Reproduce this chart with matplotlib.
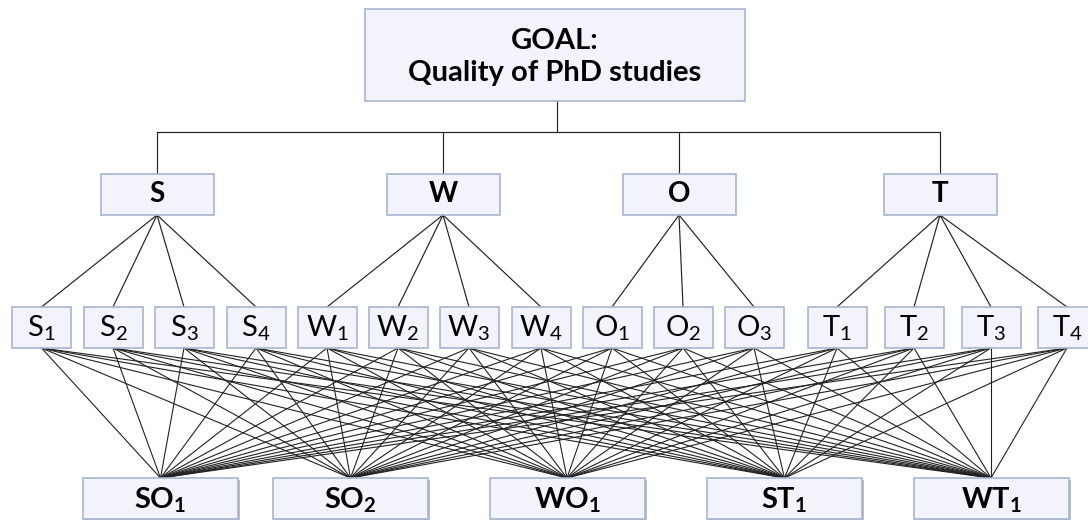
import matplotlib.pyplot as plt
from matplotlib.patches import Rectangle

plt.rcParams['font.family'] = ['Lato', 'DejaVu Sans']
plt.rcParams['mathtext.fontset'] = 'custom'
plt.rcParams['mathtext.rm'] = 'Lato'
plt.rcParams['mathtext.bf'] = 'Lato:bold'

# hierarchy content
goal_label = 'GOAL:\nQuality of PhD studies'
criteria = ['S', 'W', 'O', 'T']
sub_counts = [4, 4, 3, 4]
strategies = [('SO', 1), ('SO', 2), ('WO', 1), ('ST', 1), ('WT', 1)]

# layout in pixel coords (x centres)
goal_box = (365, 9, 380, 92)
bar_y = 132
crit_x = [157, 443, 679, 940]
crit_y, crit_w, crit_h = 174, 113, 41
sub_x = [41.5, 113, 184, 256, 327, 398, 469, 541, 612, 683, 754, 837, 914, 991, 1067]
sub_y, sub_w, sub_h = 307, 59, 41
strat_x = [160.5, 350.5, 567, 784.5, 991]
strat_y, strat_w, strat_h = 478, 155, 41

edge = '#a7b5d3'
face = '#f3f3fb'
lc = '#222222'
lw = 0.85

fig = plt.figure(figsize=(10.88, 5.2), dpi=100)
ax = fig.add_axes([0, 0, 1, 1])
ax.set_xlim(0, 1088)
ax.set_ylim(520, 0)
ax.axis('off')


def box(x, y, w, h, shadow=False):
    if shadow:
        ax.add_patch(Rectangle((x + 2, y + 2), w, h, facecolor='#b9bccb',
                               edgecolor='none', zorder=2))
    ax.add_patch(Rectangle((x, y), w, h, facecolor=face, edgecolor=edge,
                           linewidth=1.2, zorder=3))


# goal
gx, gy, gw, gh = goal_box
box(gx, gy, gw, gh)
ax.text(gx + gw / 2, gy + gh / 2 + 2, goal_label, ha='center', va='center',
        fontsize=21, fontweight='bold', linespacing=1.3, zorder=4)
ax.plot([557, 557], [gy + gh, bar_y], color=lc, lw=lw, zorder=1)
ax.plot([crit_x[0], crit_x[-1]], [bar_y, bar_y], color=lc, lw=lw, zorder=1)

# criteria + sub factors
k = 0
for c, cx, n in zip(criteria, crit_x, sub_counts):
    ax.plot([cx, cx], [bar_y, crit_y], color=lc, lw=lw, zorder=1)
    box(cx - crit_w / 2, crit_y, crit_w, crit_h)
    ax.text(cx, crit_y + crit_h / 2, c, ha='center', va='center',
            fontsize=20, fontweight='bold', zorder=4)
    for i in range(n):
        sx = sub_x[k]
        ax.plot([cx, sx], [crit_y + crit_h, sub_y], color=lc, lw=lw, zorder=1)
        box(sx - sub_w / 2, sub_y, sub_w, sub_h)
        ax.text(sx, sub_y + sub_h / 2 + 1, r'$\mathrm{%s_{%d}}$' % (c, i + 1),
                ha='center', va='center', fontsize=21, zorder=4)
        # every sub factor feeds every strategy
        for tx in strat_x:
            ax.plot([sx, tx], [sub_y + sub_h, strat_y], color=lc, lw=0.8,
                    zorder=1)
        k += 1

# strategies
for (name, idx), tx in zip(strategies, strat_x):
    box(tx - strat_w / 2, strat_y, strat_w, strat_h, shadow=True)
    ax.text(tx, strat_y + strat_h / 2 + 2, r'$\mathbf{%s_{%d}}$' % (name, idx),
            ha='center', va='center', fontsize=21, zorder=4)

fig.savefig('out.png', dpi=100)
